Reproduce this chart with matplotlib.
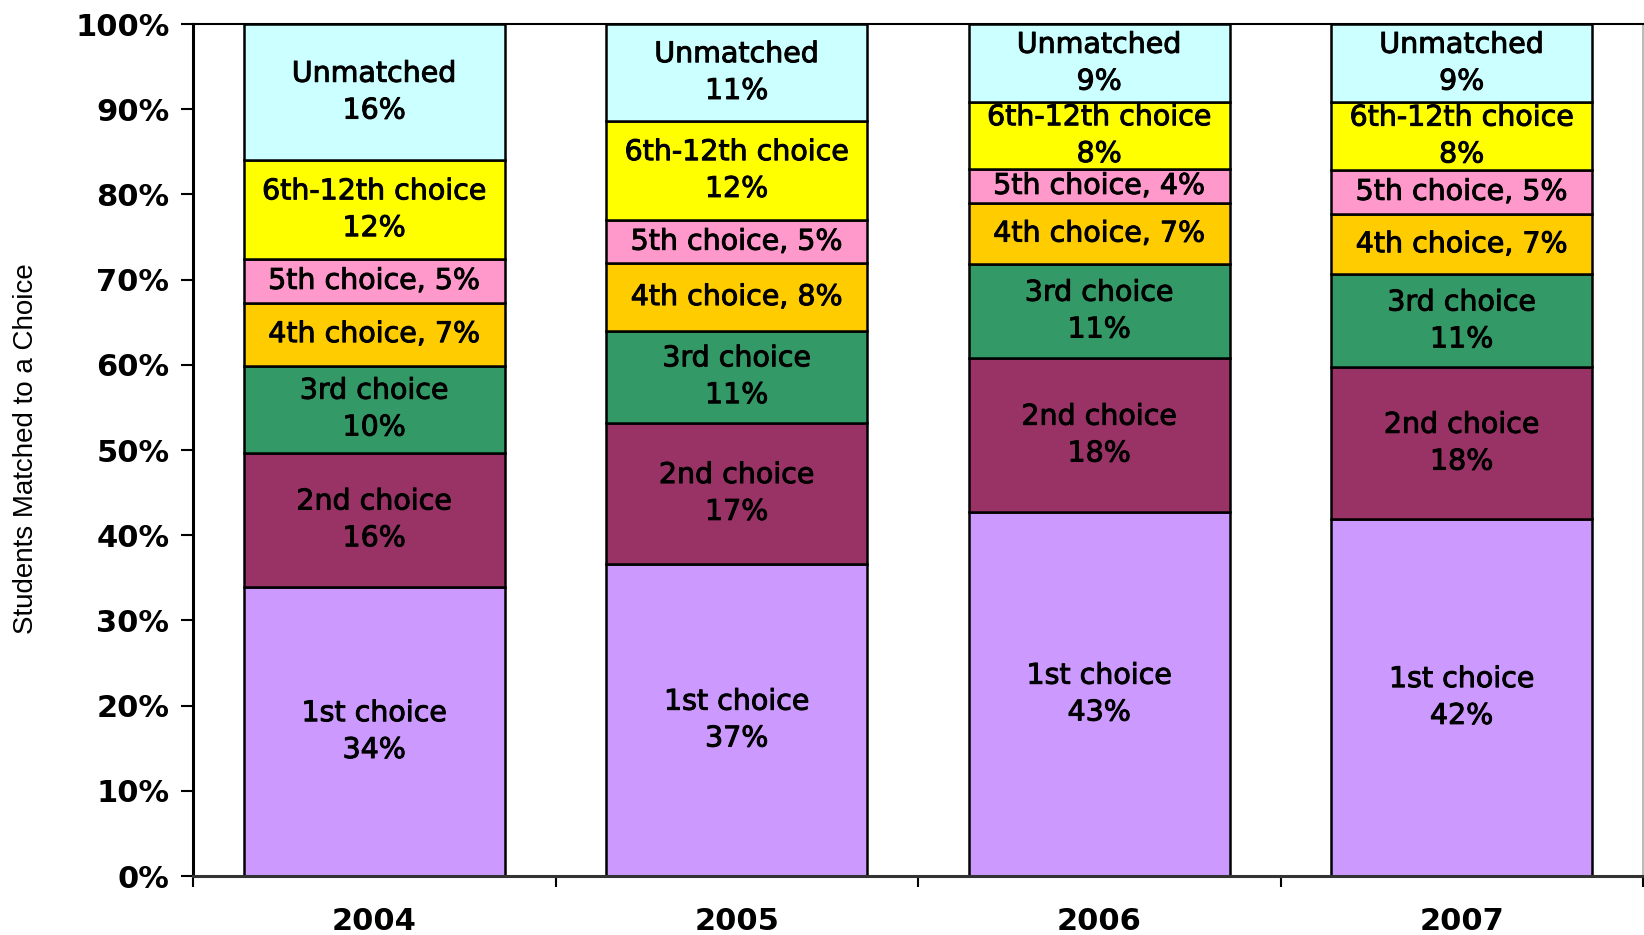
import numpy as np
import matplotlib
matplotlib.use("Agg")
import matplotlib.pyplot as plt
import matplotlib.patheffects as pe
from matplotlib.ticker import FixedLocator, PercentFormatter

years = ["2004", "2005", "2006", "2007"]
segments = ["1st choice", "2nd choice", "3rd choice", "4th choice",
            "5th choice", "6th-12th choice", "Unmatched"]
colors = ["#CC99FF", "#993366", "#339966", "#FFCC00",
          "#FF99CC", "#FFFF00", "#CCFFFF"]
# one-line labels ("4th choice, 7%") vs two-line labels
one_line = [False, False, False, True, True, False, False]

first = [33.9, 36.6, 42.7, 41.9]
second = [15.8, 16.6, 18.1, 17.8]
third = [10.2, 10.8, 11.0, 10.9]
fourth = [7.4, 7.9, 7.2, 7.1]
fifth = [5.1, 5.1, 4.0, 5.2]
sixth_12th = [11.6, 11.6, 7.8, 7.9]
unmatched = [16.0, 11.4, 9.2, 9.2]

series = [first, second, third, fourth, fifth, sixth_12th, unmatched]

fig = plt.figure(figsize=(16.44, 9.35), dpi=100)
ax = fig.add_axes([193 / 1644, 59 / 935, 1450 / 1644, 852 / 935])

heavy = [pe.withStroke(linewidth=0.7, foreground="black")]

x = np.arange(len(years))
bottom = np.zeros(len(years))
for name, vals, col, single in zip(segments, series, colors, one_line):
    vals = np.array(vals)
    ax.bar(x, vals, 0.72, bottom=bottom, color=col, edgecolor="black",
           linewidth=1.8, zorder=2)
    for xi, b, v in zip(x, bottom, vals):
        pct = f"{int(round(v))}%"
        txt = f"{name}, {pct}" if single else f"{name}\n{pct}"
        ax.text(xi, b + v / 2, txt, ha="center", va="center",
                fontsize=20.5, family="DejaVu Sans", linespacing=1.4,
                color="black", zorder=3, clip_on=False, path_effects=heavy)
    bottom += vals

ax.set_xlim(-0.5, 3.5)
ax.set_ylim(0, 100)
ax.yaxis.set_major_locator(FixedLocator(np.arange(0, 101, 10)))
ax.yaxis.set_major_formatter(PercentFormatter(decimals=0))
ax.set_xticks(x)
ax.set_xticklabels(years)
ax.xaxis.set_minor_locator(FixedLocator([-0.5, 0.5, 1.5, 2.5, 3.5]))
ax.tick_params(axis="x", which="major", length=0, pad=22)
ax.tick_params(axis="x", which="minor", length=8, width=1.5, direction="out")
ax.tick_params(axis="y", length=9, width=1.5, pad=8)
for lab in ax.get_xticklabels() + ax.get_yticklabels():
    lab.set_fontfamily("DejaVu Sans")
    lab.set_fontweight("bold")
    lab.set_fontsize(22)

ax.spines["left"].set_linewidth(2.2)
ax.spines["bottom"].set_linewidth(2.2)
ax.spines["bottom"].set_color("#333333")
ax.spines["top"].set_linewidth(1.5)
ax.spines["right"].set_color("#BBBBBB")
ax.spines["right"].set_linewidth(1.5)

fig.text(26 / 1644, 0.52, "Students Matched to a Choice", rotation=90,
         ha="center", va="center", fontsize=20, family="Liberation Sans")

fig.savefig("out.png", dpi=100, facecolor="white")
